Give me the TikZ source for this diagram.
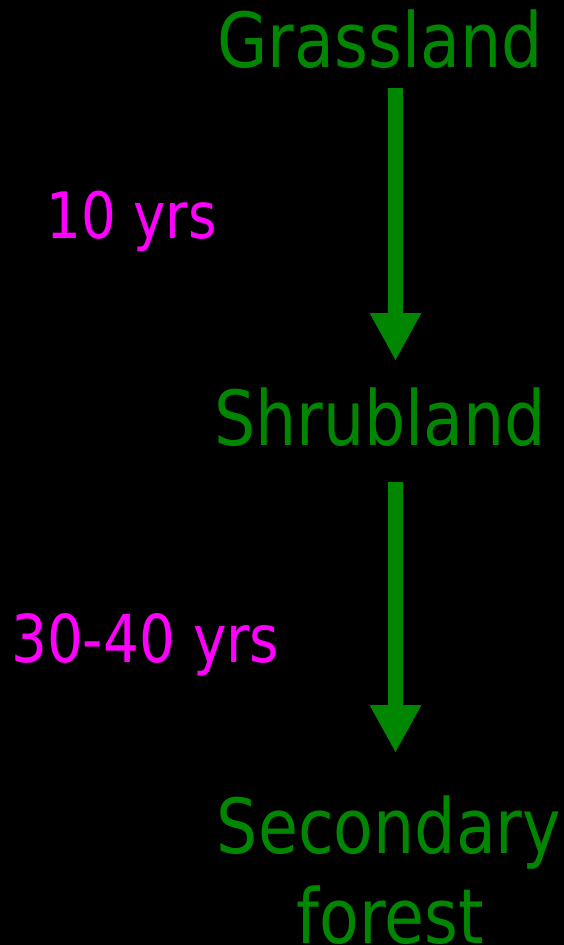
\documentclass[tikz,border=0pt]{standalone}
\usepackage{fontspec}
\setmainfont{DejaVu Sans}[FakeStretch=0.855]
\usetikzlibrary{arrows.meta}
\definecolor{succgreen}{RGB}{0,134,0}
\definecolor{yrmag}{RGB}{255,0,255}
\begin{document}
\begin{tikzpicture}[x=1pt,y=-1pt,
  stage/.style={text=succgreen,inner sep=0pt,anchor=base,font=\fontsize{76}{90}\selectfont},
  span/.style={text=yrmag,inner sep=0pt,anchor=base west},
  succarrow/.style={draw=succgreen,line width=15pt,-{Triangle[width=48pt,length=48pt]}}]
\fill[black] (0,0) rectangle (564,945);
\useasboundingbox (0,0) rectangle (564,945);
\node[stage] (grass) at (380,67) {Grassland};
\node[stage] (shrub) at (380,445) {Shrubland};
\node[stage] (second) at (389,853) {Secondary};
\node[stage] (forest) at (390,943) {forest};
\node[span,font=\fontsize{64}{76}\selectfont] (t1) at (46,238) {10 yrs};
\node[span,font=\fontsize{66}{78}\selectfont] (t2) at (11,662) {30-40 yrs};
\coordinate (a1s) at (395.5,88);
\coordinate (a1e) at (395.5,361);
\coordinate (a2s) at (395.5,482);
\coordinate (a2e) at (395.5,753);
\draw[succarrow] (a1s) -- (a1e);
\draw[succarrow] (a2s) -- (a2e);
\end{tikzpicture}
\end{document}
